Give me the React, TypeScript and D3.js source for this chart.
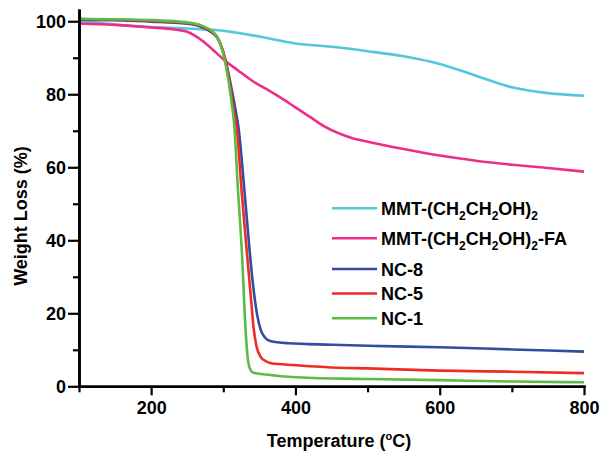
import React, { useEffect, useRef } from 'react';
import * as d3 from 'd3';

// TGA curves, [temperature °C, weight %]
const mmtOH: [number, number][] = [
  [100, 100.1], [150, 99.1], [200, 98.4], [250, 98.0], [300, 97.4], [350, 95.8],
  [400, 93.9], [450, 93.0], [500, 91.8], [550, 90.4], [600, 88.3], [650, 85.1],
  [700, 81.9], [750, 80.3], [800, 79.6],
];
const mmtOHFA: [number, number][] = [
  [100, 99.4], [150, 99.0], [200, 98.3], [230, 97.8], [250, 97.1], [270, 94.8],
  [290, 91.4], [300, 89.6], [320, 86.6], [340, 83.7], [360, 81.4], [380, 79.0],
  [400, 76.4], [420, 73.8], [440, 71.2], [460, 69.3], [480, 67.9], [500, 67.0],
  [550, 65.0], [600, 63.2], [650, 61.8], [700, 60.7], [750, 59.8], [800, 58.8],
];
const nc8: [number, number][] = [
  [100, 100.4], [200, 99.9], [250, 99.3], [270, 98.4], [285, 96.8], [292, 95.4],
  [303, 89.4], [310, 83.0], [317, 75.7], [321, 71.0], [330, 52.0], [337, 36.0],
  [342, 26.5], [347, 19.5], [352, 15.4], [358, 13.3], [365, 12.4], [390, 11.8],
  [450, 11.4], [500, 11.1], [600, 10.7], [700, 10.1], [800, 9.5],
];
const nc5: [number, number][] = [
  [100, 100.6], [200, 100.1], [250, 99.5], [270, 98.6], [285, 97.0], [292, 95.5],
  [302, 90.0], [309, 83.0], [315, 75.0], [318.5, 71.0], [326, 52.0], [333, 36.0],
  [338, 25.0], [342, 16.0], [346, 11.0], [352, 8.0], [358, 7.0], [366, 6.3],
  [400, 5.8], [460, 5.1], [500, 4.9], [600, 4.3], [700, 4.0], [800, 3.6],
];
const nc1: [number, number][] = [
  [100, 100.7], [200, 100.3], [250, 99.7], [270, 98.8], [285, 97.2], [292, 95.6],
  [300, 91.0], [307, 84.0], [312, 77.0], [315, 72.0], [320, 55.0], [326, 36.0],
  [331, 15.0], [334, 7.5], [337, 4.8], [342, 3.7], [365, 3.1], [390, 2.6],
  [460, 2.1], [500, 2.0], [600, 1.7], [700, 1.3], [800, 1.1],
];

const seriesData = [mmtOH, mmtOHFA, nc8, nc5, nc1];
const seriesColors = ['#55c6da', '#ee2d88', '#2f4ea2', '#ee2c25', '#5cbb46'];
// legend labels: [text, subscript] pieces
const seriesLabels: [string, boolean][][] = [
  [['MMT-(CH', false], ['2', true], ['CH', false], ['2', true], ['OH)', false], ['2', true]],
  [['MMT-(CH', false], ['2', true], ['CH', false], ['2', true], ['OH)', false], ['2', true], ['-FA', false]],
  [['NC-8', false]],
  [['NC-5', false]],
  [['NC-1', false]],
];

const xMajor = [200, 400, 600, 800];
const xMinor = [100, 300, 500, 700];
const yMajor = [0, 20, 40, 60, 80, 100];
const yMinor = [10, 30, 50, 70, 90];

const FONT = '"Liberation Sans", Arial, sans-serif';

const TgaChart = () => {
  const ref = useRef<SVGSVGElement>(null);

  useEffect(() => {
    if (!ref.current) return;
    const svg = d3.select(ref.current);
    svg.selectAll('*').remove();

    const x = d3.scaleLinear().domain([100, 800]).range([79, 584]);
    const y = d3.scaleLinear().domain([0, 103]).range([386.3, 10.3]);

    const line = d3.line<[number, number]>()
      .x(d => x(d[0]))
      .y(d => y(d[1]))
      .curve(d3.curveMonotoneX);

    const styleAxis = (g: any) => {
      g.select('.domain').attr('stroke', '#000').attr('stroke-width', 2.6).attr('stroke-linecap', 'square');
      g.selectAll('.tick line').attr('stroke', '#000').attr('stroke-width', 2.2);
      g.selectAll('.tick text')
        .attr('fill', '#000')
        .style('font-family', FONT)
        .style('font-weight', 'bold')
        .style('font-size', '18px');
    };

    // curves
    seriesData.forEach((data, i) => {
      svg.append('path')
        .datum(data)
        .attr('fill', 'none')
        .attr('stroke', seriesColors[i])
        .attr('stroke-width', 2.6)
        .attr('stroke-linejoin', 'round')
        .attr('d', line);
    });

    // minor ticks
    svg.append('g')
      .attr('transform', `translate(0,${y(0)})`)
      .call(d3.axisBottom(x).tickValues(xMinor).tickSize(6).tickSizeOuter(0).tickFormat(() => ''))
      .call(styleAxis);
    svg.append('g')
      .attr('transform', `translate(${x(100)},0)`)
      .call(d3.axisLeft(y).tickValues(yMinor).tickSize(6).tickSizeOuter(0).tickFormat(() => ''))
      .call(styleAxis);

    // major ticks
    svg.append('g')
      .attr('transform', `translate(0,${y(0)})`)
      .call(d3.axisBottom(x).tickValues(xMajor).tickSize(9).tickPadding(6).tickSizeOuter(0).tickFormat(d3.format('d')))
      .call(styleAxis);
    svg.append('g')
      .attr('transform', `translate(${x(100)},0)`)
      .call(d3.axisLeft(y).tickValues(yMajor).tickSize(11).tickPadding(2).tickSizeOuter(0).tickFormat(d3.format('d')))
      .call(styleAxis);

    // axis titles
    const xt = svg.append('text')
      .attr('x', 339)
      .attr('y', 447)
      .attr('text-anchor', 'middle')
      .style('font-family', FONT)
      .style('font-weight', 'bold')
      .style('font-size', '18px');
    xt.append('tspan').text('Temperature (');
    xt.append('tspan').attr('dy', -7).style('font-size', '11px').text('o');
    xt.append('tspan').attr('dy', 7).text('C)');

    svg.append('text')
      .attr('transform', 'translate(27,216) rotate(-90)')
      .attr('text-anchor', 'middle')
      .style('font-family', FONT)
      .style('font-weight', 'bold')
      .style('font-size', '18px')
      .text('Weight Loss (%)');

    // legend
    const legendRowY = [208.3, 238.3, 269, 293.5, 318.3];
    seriesLabels.forEach((parts, i) => {
      const ly = legendRowY[i];
      svg.append('line')
        .attr('x1', 332).attr('x2', 377)
        .attr('y1', ly).attr('y2', ly)
        .attr('stroke', seriesColors[i])
        .attr('stroke-width', 2.6);
      const t = svg.append('text')
        .attr('x', 381)
        .attr('y', ly + 6.7)
        .style('font-family', FONT)
        .style('font-weight', 'bold')
        .style('font-size', '18px');
      let shifted = false;
      parts.forEach(([s, sub]) => {
        const dy = sub && !shifted ? 5 : !sub && shifted ? -5 : 0;
        shifted = sub;
        t.append('tspan')
          .attr('dy', dy)
          .style('font-size', sub ? '12px' : '18px')
          .text(s);
      });
    });
  }, []);

  return (
    <svg
      ref={ref}
      width={601}
      height={452}
      style={{ position: 'absolute', left: 0, top: 0, background: '#fff' }}
    />
  );
};

export default function App() {
  return <TgaChart />;
}
